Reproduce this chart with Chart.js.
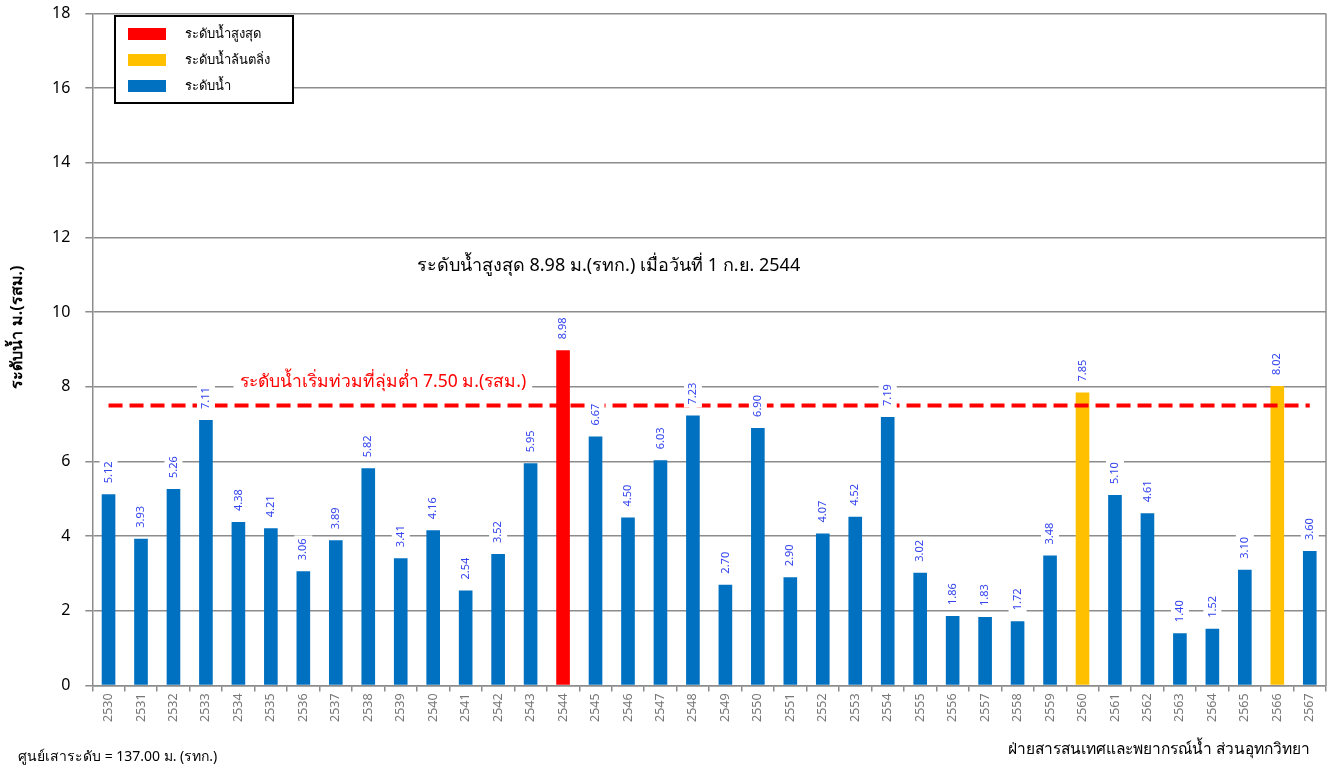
<!DOCTYPE html>
<html>
<head>
<meta charset="utf-8">
<script src="https://cdn.jsdelivr.net/npm/chart.js@4"></script>
<style>
  body { margin: 0; background: #fff; overflow: hidden; }
  #wrap { width: 1334px; height: 783px; position: absolute; left: 0; top: -11px; }
</style>
</head>
<body>
<div id="wrap"><canvas id="levelChart"></canvas></div>
<script>
// ปี พ.ศ.
const years = ['2530','2531','2532','2533','2534','2535','2536','2537','2538','2539',
  '2540','2541','2542','2543','2544','2545','2546','2547','2548','2549',
  '2550','2551','2552','2553','2554','2555','2556','2557','2558','2559',
  '2560','2561','2562','2563','2564','2565','2566','2567'];
// ระดับน้ำสูงสุดรายปี ม.(รสม.)
const levels = [5.12, 3.93, 5.26, 7.11, 4.38, 4.21, 3.06, 3.89, 5.82, 3.41,
  4.16, 2.54, 3.52, 5.95, 8.98, 6.67, 4.50, 6.03, 7.23, 2.70,
  6.90, 2.90, 4.07, 4.52, 7.19, 3.02, 1.86, 1.83, 1.72, 3.48,
  7.85, 5.10, 4.61, 1.40, 1.52, 3.10, 8.02, 3.60];
const maxYears = ['2544'];          // ระดับน้ำสูงสุด
const overflowYears = ['2560', '2566']; // ระดับน้ำล้นตลิ่ง
const floodLevel = 7.50;
const yTicks = [0, 2, 4, 6, 8, 10, 12, 14, 16, 18];

const FONT = 'Tahoma, "Noto Sans", "DejaVu Sans", sans-serif';
const OFF = 11; // canvas shifted up by this much

const maxData = years.map((y, i) => maxYears.includes(y) ? levels[i] : null);
const overData = years.map((y, i) => overflowYears.includes(y) ? levels[i] : null);
const normalData = years.map((y, i) => (maxYears.includes(y) || overflowYears.includes(y)) ? null : levels[i]);

// ป้ายค่าบนแท่ง (หมุน 90 องศา พื้นขาว)
const valueLabels = {
  id: 'valueLabels',
  afterDatasetsDraw(chart) {
    const ctx = chart.ctx;
    ctx.save();
    ctx.font = '11px ' + FONT;
    ctx.textBaseline = 'middle';
    ctx.textAlign = 'left';
    [0, 1, 2].forEach(di => {
      const meta = chart.getDatasetMeta(di);
      meta.data.forEach((bar, i) => {
        const v = chart.data.datasets[di].data[i];
        if (v == null) return;
        const txt = v.toFixed(2);
        const w = ctx.measureText(txt).width;
        const x = bar.x, y = bar.y - 11;
        ctx.save();
        ctx.translate(x, y);
        ctx.rotate(-Math.PI / 2);
        ctx.fillStyle = '#fff';
        ctx.fillRect(-3, -9, w + 6, 18);
        ctx.fillStyle = '#3344ee';
        ctx.fillText(txt, 0, 0);
        ctx.restore();
      });
    });
    ctx.restore();
  }
};

// ข้อความ, กรอบ, คำอธิบายสัญลักษณ์
const extras = {
  id: 'extras',
  afterDraw(chart) {
    const ctx = chart.ctx;
    const xs = chart.scales.x, ys = chart.scales.y;
    const a = chart.chartArea;
    ctx.save();
    // right frame
    ctx.strokeStyle = '#8c8c8c';
    ctx.lineWidth = 1.5;
    ctx.beginPath();
    ctx.moveTo(a.right, a.top);
    ctx.lineTo(a.right, a.bottom);
    ctx.stroke();

    // y axis title
    ctx.save();
    ctx.translate(17, 327 + OFF);
    ctx.rotate(-Math.PI / 2);
    ctx.font = 'bold 16px ' + FONT;
    ctx.textAlign = 'center';
    ctx.textBaseline = 'middle';
    ctx.fillStyle = '#000';
    ctx.fillText('ระดับน้ำ ม.(รสม.)', 0, 0);
    ctx.restore();

    // red flood text
    ctx.font = '17.5px ' + FONT;
    ctx.textAlign = 'center';
    ctx.textBaseline = 'middle';
    const rt = 'ระดับน้ำเริ่มท่วมที่ลุ่มต่ำ 7.50 ม.(รสม.)';
    const rx = xs.getPixelForValue(8.45), ry = ys.getPixelForValue(8.13);
    const rw = ctx.measureText(rt).width;
    ctx.fillStyle = '#fff';
    ctx.fillRect(rx - rw / 2 - 6, ry - 11, rw + 12, 22);
    ctx.fillStyle = '#ff0000';
    ctx.fillText(rt, rx, ry);

    // max text
    ctx.font = '18px ' + FONT;
    ctx.fillStyle = '#000';
    ctx.fillText('ระดับน้ำสูงสุด 8.98 ม.(รทก.) เมื่อวันที่ 1 ก.ย. 2544',
      xs.getPixelForValue(15.4), ys.getPixelForValue(11.25));

    // footer
    ctx.font = '14px ' + FONT;
    ctx.textAlign = 'left';
    ctx.fillText('ศูนย์เสาระดับ = 137.00 ม. (รทก.)', 18, 757 + OFF);
    ctx.textAlign = 'right';
    ctx.font = '15.5px ' + FONT;
    ctx.fillText('ฝ่ายสารสนเทศและพยากรณ์น้ำ ส่วนอุทกวิทยา', 1310, 750 + OFF);

    // legend box
    const lx = 115, ly = 16 + OFF, lw = 178, lh = 87;
    ctx.fillStyle = '#fff';
    ctx.fillRect(lx, ly, lw, lh);
    ctx.strokeStyle = '#000';
    ctx.lineWidth = 2;
    ctx.strokeRect(lx, ly, lw, lh);
    ctx.font = '13px ' + FONT;
    ctx.textAlign = 'left';
    [0, 1, 2].forEach((di, k) => {
      const ds = chart.data.datasets[di];
      const yy = ly + 18 + k * 26;
      ctx.fillStyle = ds.backgroundColor;
      ctx.fillRect(lx + 13, yy - 6, 38, 12);
      ctx.fillStyle = '#000';
      ctx.fillText(ds.label, lx + 70, yy);
    });
    ctx.restore();
  }
};

new Chart(document.getElementById('levelChart'), {
  type: 'bar',
  data: {
    labels: years,
    datasets: [
      { label: 'ระดับน้ำสูงสุด', data: maxData, backgroundColor: '#ff0000', grouped: false, barPercentage: 0.42, categoryPercentage: 1, order: 2 },
      { label: 'ระดับน้ำล้นตลิ่ง', data: overData, backgroundColor: '#ffc000', grouped: false, barPercentage: 0.42, categoryPercentage: 1, order: 2 },
      { label: 'ระดับน้ำ', data: normalData, backgroundColor: '#0070c0', grouped: false, barPercentage: 0.42, categoryPercentage: 1, order: 2 },
      {
        type: 'line', label: 'flood',
        data: [{ x: years[0], y: floodLevel }, { x: years[years.length - 1], y: floodLevel }],
        borderColor: '#ff0000', borderWidth: 4, borderDash: [14, 7],
        pointRadius: 0, fill: false, order: 1
      }
    ]
  },
  options: {
    responsive: true,
    maintainAspectRatio: false,
    animation: false,
    layout: { padding: { left: 37, right: 8, top: 4, bottom: 48 } },
    plugins: { legend: { display: false }, tooltip: { enabled: false } },
    scales: {
      x: {
        grid: { drawOnChartArea: false, drawTicks: true, tickLength: 6, color: '#8c8c8c', lineWidth: 1.5 },
        border: { color: '#8c8c8c', width: 1.5 },
        ticks: { minRotation: 90, maxRotation: 90, autoSkip: false, color: '#777', font: { family: FONT, size: 12.5 }, padding: 2 }
      },
      y: {
        min: 0, max: 18,
        afterBuildTicks(axis) { axis.ticks = yTicks.map(v => ({ value: v })); },
        grid: { color: '#8c8c8c', lineWidth: 1.5, tickLength: 7 },
        border: { color: '#8c8c8c', width: 1.5 },
        ticks: { color: '#000', font: { family: FONT, size: 16 }, padding: 15 }
      }
    }
  },
  plugins: [valueLabels, extras]
});
</script>
</body>
</html>
